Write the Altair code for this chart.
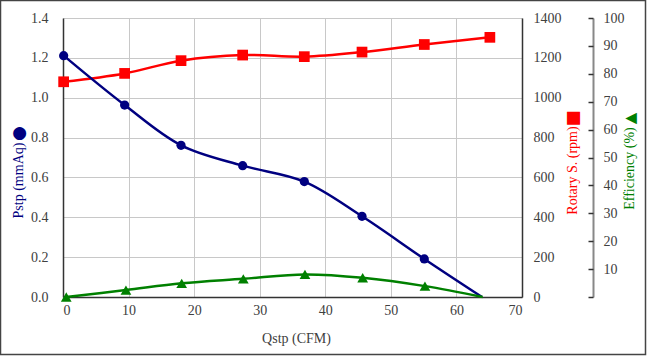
import altair as alt
import pandas as pd

# Data
qstp = [0.1, 9.4, 18.0, 27.4, 36.8, 45.6, 55.1, 63.9]
qstp_rpm = [0.1, 9.4, 18.0, 27.4, 36.8, 45.6, 55.1, 65.1]
qstp_eff = [0.5, 9.6, 18.1, 27.5, 36.9, 45.7, 55.2, 64.0]
pstp = [1.211, 0.963, 0.761, 0.659, 0.579, 0.405, 0.191, 0.0]
rpm = [1080, 1122, 1186, 1214, 1206, 1229, 1267, 1303]
eff = [0.0, 2.5, 4.9, 6.5, 8.1, 6.9, 3.9, 0.0]
marked = [True, True, True, True, True, True, True, False]

x_ticks = [0, 10, 20, 30, 40, 50, 60, 70]
p_ticks = [0.0, 0.2, 0.4, 0.6, 0.8, 1.0, 1.2, 1.4]
r_ticks = [0, 200, 400, 600, 800, 1000, 1200, 1400]
e_ticks = [0, 10, 20, 30, 40, 50, 60, 70, 80, 90, 100]

df = pd.DataFrame({"q": qstp, "q_rpm": qstp_rpm, "q_eff": qstp_eff,
                   "pstp": pstp, "rpm": rpm, "eff": eff, "marked": marked})

NAVY = "#000080"
RED = "#ff0000"
GREEN = "#008000"
FONT = "Liberation Serif"
SYM = "DejaVu Sans"
LBL = "#404040"

x_scale = alt.Scale(domain=[0, 70], nice=False)
x_axis = alt.Axis(values=x_ticks, grid=True, gridColor="#c8c8c8", ticks=False,
                  labelPadding=6, labelFont=FONT, labelFontSize=14, labelColor=LBL,
                  domainColor="#333", domainWidth=1.5,
                  title="Qstp (CFM)", titleColor=LBL, titleFontWeight="normal",
                  titleFontSize=14, titleFont=FONT, titleX=233, titleY=41,
                  titleBaseline="middle")


def sym_axis(orient, sym, size, color, tx, ty, offset=0, ticks=False, values=None):
    kw = dict(orient=orient, offset=offset, domain=False, labels=False,
              ticks=ticks, grid=False, title=sym, titleFont=SYM,
              titleFontSize=size, titleColor=color, titleFontWeight="normal",
              titleAngle=270, titleX=tx, titleY=ty, titleBaseline="middle",
              titleAlign="center")
    if ticks:
        kw.update(values=values, tickSize=5, tickColor="#333", tickWidth=1.5)
    return alt.Axis(**kw)


base = alt.Chart(df)

# --- Pstp ---
p_y = alt.Y("pstp:Q", scale=alt.Scale(domain=[0, 1.4], nice=False),
            axis=alt.Axis(orient="left", values=p_ticks, format=".1f", grid=True,
                          gridColor="#c8c8c8", ticks=False, labelPadding=15,
                          labelFont=FONT, labelFontSize=14, labelColor=LBL,
                          domainColor="#333", domainWidth=1.5,
                          title="Pstp (mmAq)", titleColor=NAVY, titleFont=FONT,
                          titleFontSize=14, titleFontWeight="normal", titleAngle=270,
                          titleX=-45, titleY=162, titleBaseline="middle",
                          titleAlign="center"))
pstp_layer = alt.layer(
    base.mark_line(interpolate="catmull-rom", color=NAVY, strokeWidth=2.5).encode(
        x=alt.X("q:Q", scale=x_scale, axis=x_axis), y=p_y),
    base.mark_point(filled=True, shape="circle", size=85, color=NAVY, opacity=1)
    .transform_filter("datum.marked").encode(
        x=alt.X("q:Q", scale=x_scale, axis=x_axis), y=p_y),
)

# --- Rotary speed ---
r_y = alt.Y("rpm:Q", scale=alt.Scale(domain=[0, 1400], nice=False),
            axis=alt.Axis(orient="right", values=r_ticks, format="d", grid=False,
                          ticks=False, labelPadding=11, labelFont=FONT,
                          labelFontSize=14, labelColor=LBL,
                          domainColor="#333", domainWidth=1.5,
                          title="Rotary S. (rpm)", titleColor=RED, titleFont=FONT,
                          titleFontSize=14, titleFontWeight="normal", titleAngle=270,
                          titleX=50, titleY=152, titleBaseline="middle",
                          titleAlign="center"))
rpm_layer = base.mark_line(
    interpolate="catmull-rom", color=RED, strokeWidth=2.5,
    point=alt.OverlayMarkDef(filled=True, shape="square", size=115, color=RED, opacity=1),
).encode(x=alt.X("q_rpm:Q", scale=x_scale, axis=x_axis), y=r_y)

# --- Efficiency ---
e_y = alt.Y("eff:Q", scale=alt.Scale(domain=[0, 100], nice=False),
            axis=alt.Axis(orient="right", offset=71, values=e_ticks, grid=False,
                          ticks=False, labelPadding=10, labelFont=FONT,
                          labelFontSize=14, labelColor=LBL, domainColor="#888",
                          domainWidth=2,
                          labelExpr="datum.value == 0 ? '' : datum.label",
                          title="Efficiency (%)", titleColor=GREEN, titleFont=FONT,
                          titleFontSize=14, titleFontWeight="normal", titleAngle=270,
                          titleX=36, titleY=150, titleBaseline="middle",
                          titleAlign="center"))
eff_layer = alt.layer(
    base.mark_line(interpolate="catmull-rom", color=GREEN, strokeWidth=2.5).encode(
        x=alt.X("q_eff:Q", scale=x_scale, axis=x_axis), y=e_y),
    base.mark_point(filled=True, shape="triangle-up", size=115, color=GREEN, opacity=1)
    .transform_filter("datum.marked").encode(
        x=alt.X("q_eff:Q", scale=x_scale, axis=x_axis), y=e_y),
)

# --- legend-like symbols next to the axis titles (axis titles only) ---
sym_p = base.mark_point(opacity=0).encode(
    x=alt.X("q:Q", scale=x_scale, axis=x_axis),
    y=alt.Y("pstp:Q", scale=alt.Scale(domain=[0, 1.4], nice=False),
            axis=sym_axis("left", "●", 17, NAVY, -45, 115)))
sym_r = base.mark_point(opacity=0).encode(
    x=alt.X("q:Q", scale=x_scale, axis=x_axis),
    y=alt.Y("rpm:Q", scale=alt.Scale(domain=[0, 1400], nice=False),
            axis=sym_axis("right", "■", 17, RED, 50, 100)))
# efficiency symbol + inward-pointing ticks of the efficiency axis
sym_e = base.mark_point(opacity=0).encode(
    x=alt.X("q:Q", scale=x_scale, axis=x_axis),
    y=alt.Y("eff:Q", scale=alt.Scale(domain=[0, 100], nice=False),
            axis=sym_axis("right", "▲", 15, GREEN, 41, 100, offset=66,
                          ticks=True, values=e_ticks)))

frame = alt.Chart(alt.Data(values=[{"a": 1}])).mark_rect(
    filled=False, stroke="#444", strokeWidth=1.5
).encode(
    x=alt.value(-62.5), x2=alt.value(582.5), y=alt.value(-17.5), y2=alt.value(336.5)
)

chart = alt.layer(rpm_layer, pstp_layer, eff_layer, sym_p, sym_r, sym_e, frame).resolve_scale(
    y="independent"
).properties(
    width=459, height=279,
    autosize=alt.AutoSizeParams(type="none"),
    padding={"left": 63, "top": 18, "right": 125, "bottom": 59},
    background="white",
).configure(font=FONT).configure_view(stroke=None).configure_axis(
    labelFont=FONT, titleFont=FONT
)

chart.save("out.html", embed_options={"renderer": "svg", "actions": False})
